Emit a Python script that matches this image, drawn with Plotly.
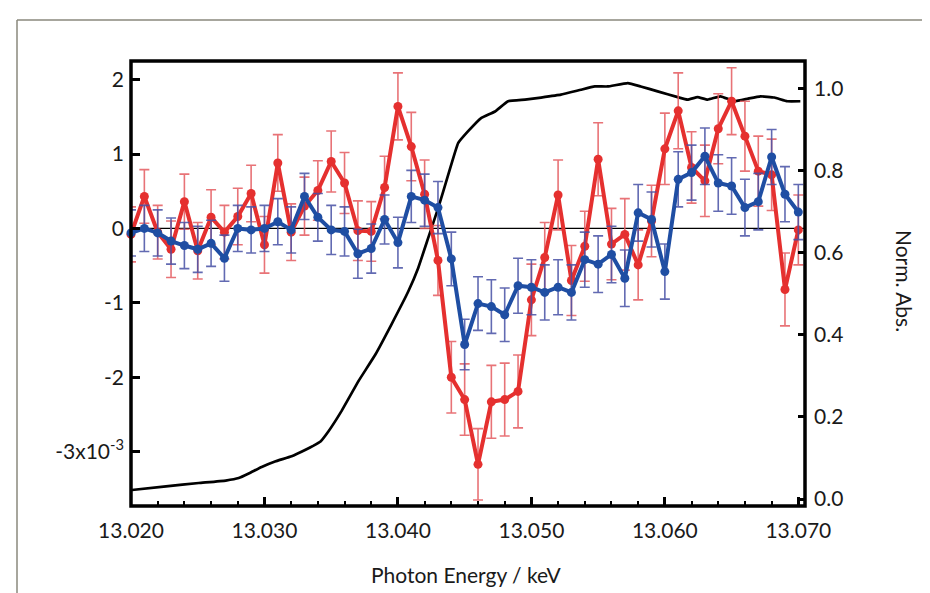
import plotly.graph_objects as go

# ---------------- data ----------------
energy = [13.020, 13.021, 13.022, 13.023, 13.024, 13.025, 13.026, 13.027, 13.028, 13.029,
          13.030, 13.031, 13.032, 13.033, 13.034, 13.035, 13.036, 13.037, 13.038, 13.039,
          13.040, 13.041, 13.042, 13.043, 13.044, 13.045, 13.046, 13.047, 13.048, 13.049,
          13.050, 13.051, 13.052, 13.053, 13.054, 13.055, 13.056, 13.057, 13.058, 13.059,
          13.060, 13.061, 13.062, 13.063, 13.064, 13.065, 13.066, 13.067, 13.068, 13.069,
          13.070]

red_vals = [-0.08, 0.43, -0.05, -0.28, 0.36, -0.30, 0.15, -0.05, 0.16, 0.47,
            -0.22, 0.88, -0.05, 0.30, 0.51, 0.90, 0.61, -0.03, -0.04, 0.55,
            1.64, 1.10, 0.46, -0.43, -2.00, -2.30, -3.17, -2.33, -2.30, -2.19,
            -0.96, -0.39, 0.45, -0.70, -0.24, 0.93, -0.21, -0.08, -0.49, 0.10,
            1.07, 1.58, 0.82, 0.64, 1.34, 1.71, 1.24, 0.77, 0.72, -0.82,
            -0.02]
red_err = [0.37, 0.36, 0.36, 0.38, 0.37, 0.38, 0.37, 0.36, 0.38, 0.38,
           0.38, 0.38, 0.38, 0.39, 0.40, 0.41, 0.41, 0.40, 0.40, 0.42,
           0.45, 0.46, 0.46, 0.47, 0.48, 0.48, 0.48, 0.49, 0.49, 0.49,
           0.48, 0.47, 0.47, 0.47, 0.47, 0.49, 0.48, 0.48, 0.47, 0.48,
           0.48, 0.51, 0.48, 0.48, 0.47, 0.45, 0.47, 0.47, 0.48, 0.49,
           0.47]

blue_vals = [-0.06, 0.00, -0.06, -0.17, -0.23, -0.28, -0.20, -0.40, 0.00, -0.02,
             0.00, 0.09, -0.02, 0.43, 0.15, -0.02, -0.04, -0.34, -0.27, 0.12,
             -0.19, 0.43, 0.38, 0.28, -0.41, -1.56, -1.01, -1.05, -1.16, -0.77,
             -0.79, -0.86, -0.79, -0.86, -0.42, -0.48, -0.35, -0.67, 0.21, 0.12,
             -0.58, 0.66, 0.75, 0.97, 0.61, 0.57, 0.28, 0.36, 0.96, 0.46,
             0.22]
blue_err = [0.31, 0.31, 0.31, 0.31, 0.31, 0.31, 0.31, 0.31, 0.31, 0.31,
            0.31, 0.31, 0.31, 0.31, 0.32, 0.33, 0.33, 0.33, 0.33, 0.33,
            0.34, 0.35, 0.35, 0.35, 0.36, 0.34, 0.36, 0.36, 0.36, 0.37,
            0.37, 0.37, 0.37, 0.37, 0.37, 0.38, 0.38, 0.38, 0.38, 0.37,
            0.37, 0.37, 0.37, 0.38, 0.38, 0.38, 0.38, 0.38, 0.37, 0.37,
            0.37]

xanes_energy = [13.02007, 13.02262, 13.02508, 13.02710, 13.02807, 13.02882, 13.02979, 13.03084,
                13.03203, 13.03308, 13.03368, 13.03420, 13.03480, 13.03577, 13.03704, 13.03831,
                13.03951, 13.04078, 13.04152, 13.04227, 13.04302, 13.04377, 13.04451, 13.04526,
                13.04623, 13.04728, 13.04825, 13.04952, 13.05072, 13.05221, 13.05371, 13.05475,
                13.05572, 13.05722, 13.05819, 13.05946, 13.06096, 13.06170, 13.06245, 13.06320,
                13.06417, 13.06522, 13.06619, 13.06716, 13.06821, 13.06918, 13.07015]
xanes_abs = [0.022, 0.031, 0.039, 0.045, 0.051, 0.062, 0.078, 0.092,
             0.104, 0.120, 0.130, 0.140, 0.165, 0.214, 0.287, 0.352,
             0.425, 0.506, 0.563, 0.636, 0.709, 0.790, 0.867, 0.896,
             0.928, 0.944, 0.969, 0.973, 0.978, 0.985, 0.997, 1.005,
             1.005, 1.013, 1.005, 0.993, 0.979, 0.973, 0.979, 0.973,
             0.981, 0.969, 0.975, 0.981, 0.978, 0.969, 0.969]

left_tickvals = [-3, -2, -1, 0, 1, 2]
left_ticktext = ["-3x10<sup>-3</sup>", "-2", "-1", "0", "1", "2"]
right_tickvals = [0.0, 0.2, 0.4, 0.6, 0.8, 1.0]
right_ticktext = ["0.0", "0.2", "0.4", "0.6", "0.8", "1.0"]
x_tickvals = [13.020, 13.030, 13.040, 13.050, 13.060, 13.070]
x_ticktext = ["13.020", "13.030", "13.040", "13.050", "13.060", "13.070"]

# ---------------- style ----------------
FONT = "Lato, 'Open Sans', sans-serif"
RED = "#e5302f"
RED_ERR = "rgba(228,90,95,0.85)"
BLUE = "#1f4ea3"
BLUE_ERR = "rgba(70,80,165,0.85)"

fig = go.Figure()

# XANES curve on right axis (primary y)
fig.add_trace(go.Scatter(
    x=xanes_energy, y=xanes_abs, mode="lines",
    line=dict(color="black", width=2.7, shape="spline", smoothing=0.3),
    yaxis="y", hoverinfo="skip", showlegend=False))

# zero line on the left axis
fig.add_trace(go.Scatter(
    x=[energy[0], energy[-1] + 0.0005], y=[0, 0], mode="lines",
    line=dict(color="black", width=1.2), yaxis="y2",
    hoverinfo="skip", showlegend=False))

fig.add_trace(go.Scatter(
    x=energy, y=red_vals, mode="lines+markers", yaxis="y2",
    line=dict(color=RED, width=4),
    marker=dict(color=RED, size=9),
    error_y=dict(type="data", array=red_err, visible=True,
                 color=RED_ERR, thickness=1.6, width=5),
    cliponaxis=False, showlegend=False))

fig.add_trace(go.Scatter(
    x=energy, y=blue_vals, mode="lines+markers", yaxis="y2",
    line=dict(color=BLUE, width=4),
    marker=dict(color=BLUE, size=9),
    error_y=dict(type="data", array=blue_err, visible=True,
                 color=BLUE_ERR, thickness=1.6, width=5),
    cliponaxis=False, showlegend=False))

L, R, T, B = 123, 797, 53, 498
W, H = 930, 593
pw, ph = R - L, B - T


def px(xp):
    return (xp - L) / pw


def py(yp):
    return (B - yp) / ph


fig.update_layout(
    width=W, height=H,
    margin=dict(l=L, r=W - R, t=T, b=H - B),
    paper_bgcolor="white", plot_bgcolor="white",
    font=dict(family=FONT, size=21, color="#1a1a1a"),
    xaxis=dict(
        range=[13.020, 13.0705], showgrid=False, zeroline=False,
        showline=False, tickmode="array", tickvals=x_tickvals, ticktext=x_ticktext,
        ticks="inside", ticklen=9, tickwidth=2.5, tickcolor="black",
        ticklabelstandoff=10,
        minor=dict(dtick=0.002, tick0=13.020, ticks="inside", ticklen=5,
                   tickwidth=2, tickcolor="black", showgrid=False),
        tickfont=dict(size=21, family=FONT),
    ),
    yaxis=dict(
        side="right", range=[-0.017, 1.067], showgrid=False, zeroline=False,
        showline=False, tickmode="array", tickvals=right_tickvals, ticktext=right_ticktext,
        ticks="inside", ticklen=7, tickwidth=2.5, tickcolor="black",
        ticklabelstandoff=8, tickfont=dict(size=21, family=FONT),
    ),
    yaxis2=dict(
        side="left", overlaying="y", range=[-3.73, 2.25], showgrid=False,
        zeroline=False, showline=False, tickmode="array",
        tickvals=left_tickvals, ticktext=left_ticktext,
        ticks="inside", ticklen=9, tickwidth=2.5, tickcolor="black",
        ticklabelstandoff=6, tickfont=dict(size=21, family=FONT),
    ),
    shapes=[
        dict(type="rect", xref="paper", yref="paper", x0=0, x1=1, y0=0, y1=1,
             line=dict(color="black", width=3.5), layer="above"),
        dict(type="line", xref="paper", yref="paper", x0=px(9), x1=px(930),
             y0=py(12), y1=py(12), line=dict(color="#8a887c", width=1.5)),
        dict(type="line", xref="paper", yref="paper", x0=px(9), x1=px(9),
             y0=py(12), y1=py(593), line=dict(color="#8a887c", width=1.5)),
    ],
    annotations=[
        dict(text="Photon Energy / keV", xref="paper", yref="paper",
             x=px(458), y=py(566), xanchor="center", yanchor="middle",
             showarrow=False, font=dict(size=21, family=FONT)),
        dict(text="Norm. Abs.", xref="paper", yref="paper",
             x=px(897), y=py(273), xanchor="center", yanchor="middle",
             textangle=90, showarrow=False, font=dict(size=21, family=FONT)),
    ],
)

fig.write_html("out.html")
